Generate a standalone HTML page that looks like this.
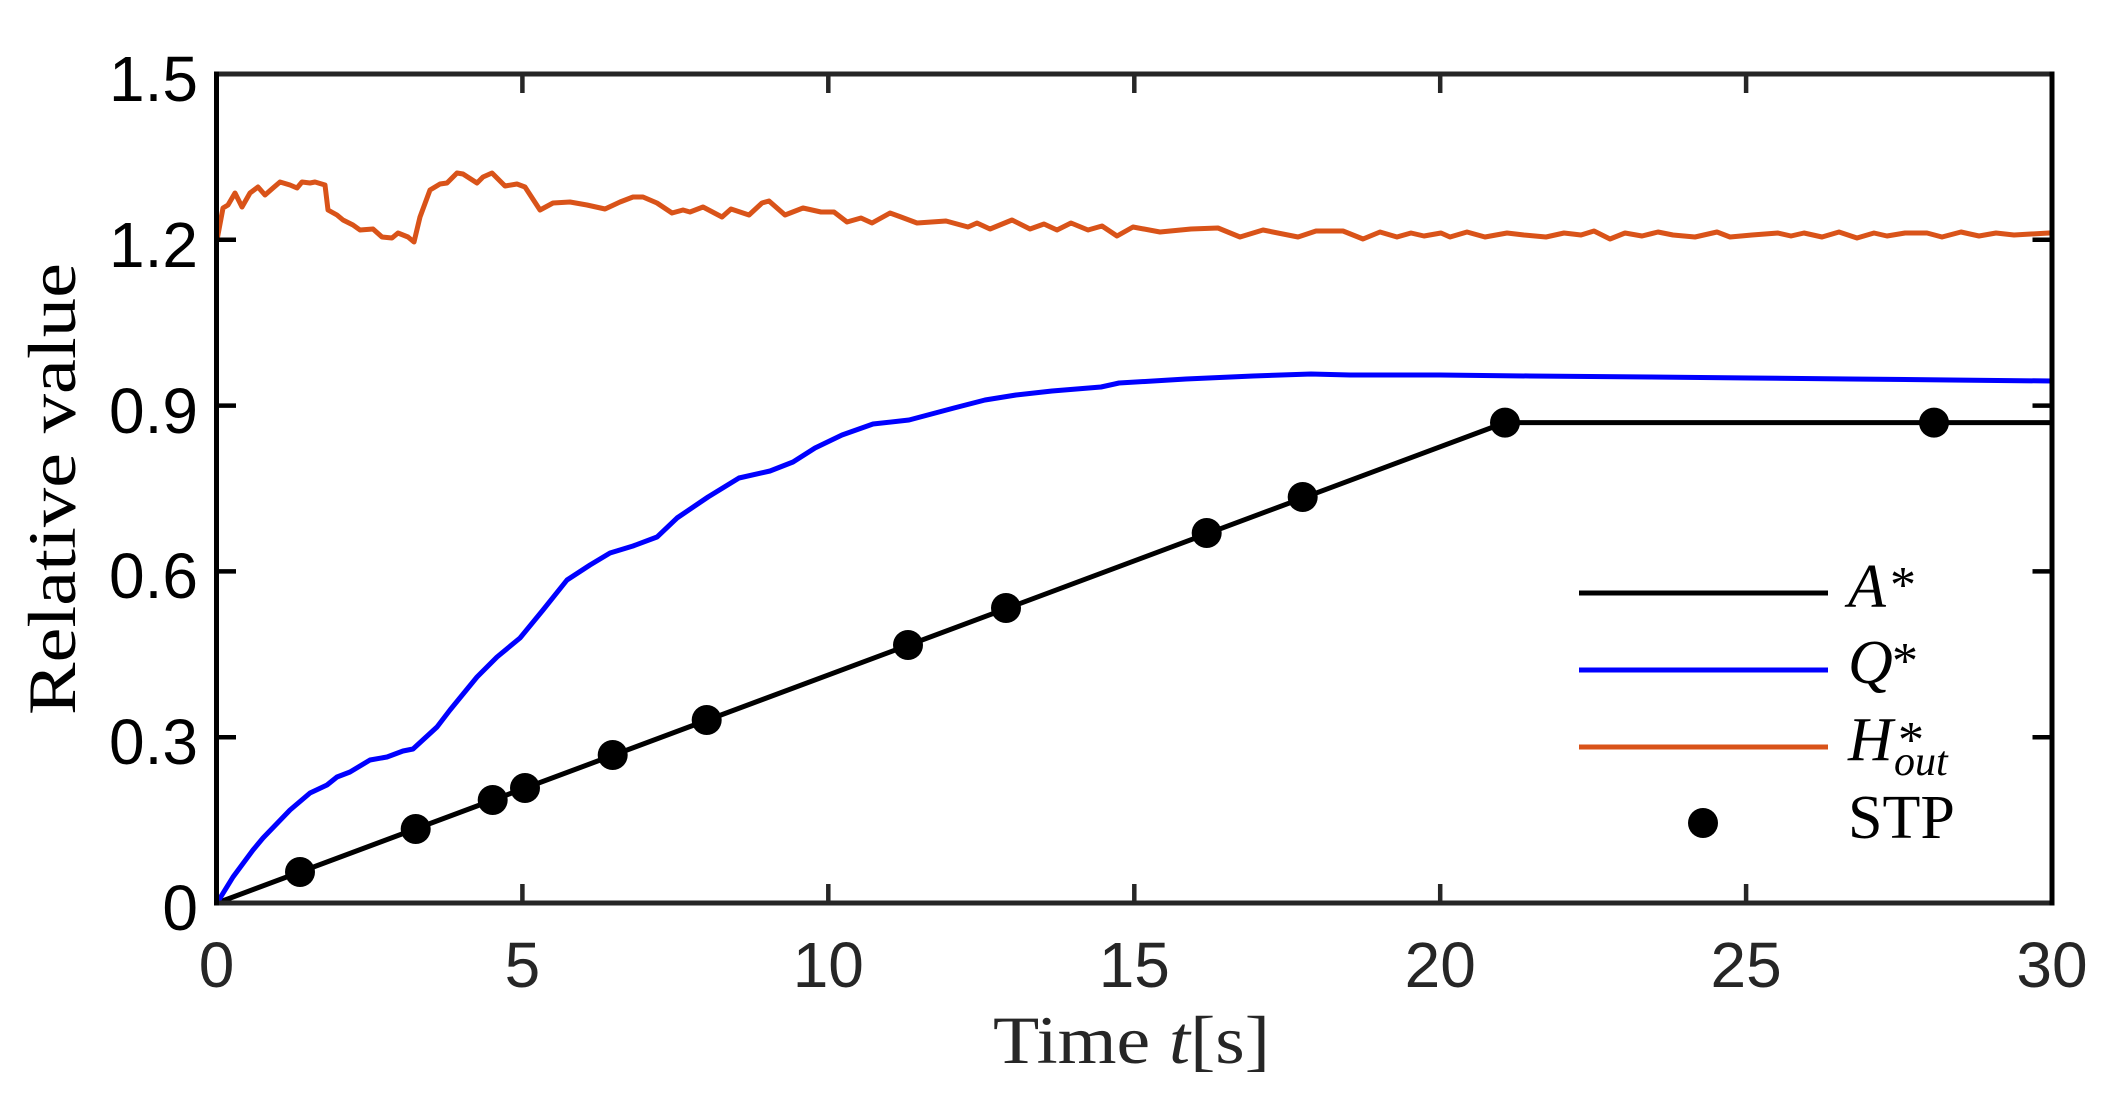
<!DOCTYPE html>
<html>
<head>
<meta charset="utf-8">
<style>
  html, body { margin: 0; padding: 0; background: #ffffff; }
  svg { display: block; }
</style>
</head>
<body>
<svg width="2105" height="1102" viewBox="0 0 2105 1102" xmlns="http://www.w3.org/2000/svg">
  <rect x="0" y="0" width="2105" height="1102" fill="#ffffff"/>

  <!-- A* line -->
  <polyline fill="none" stroke="#000000" stroke-width="5" stroke-linejoin="round"
    points="217,903 1505,422.6 2052,422.6"/>

  <!-- Q* line -->
  <polyline fill="none" stroke="#0000ff" stroke-width="5" stroke-linejoin="round"
    points="217,903 233,877 253,850 263,838 290,810 310,793 327,785 337,777 350,772 370,760 387,757 403,751 413,749 437,727 450,710 477,677 497,657 520,638 543,610 567,580 590,565 610,553 633,546 657,537 677,518 708,497 739,478 770,471 793,462 815,448 842,435 873,424 909,420 954,408 985,400 1016,395 1052,391 1101,387 1119,383 1186,379 1253,376 1311,374 1350,375 1440,375 1530,376 1650,377 1750,378 1850,379 1950,380 2052,381"/>

  <!-- H*out line -->
  <polyline fill="none" stroke="#d95319" stroke-width="5" stroke-linejoin="round"
    points="217,240 223,208 228,205 235,193 242,207 250,193 258,187 265,195 273,188 280,182 290,185 297,188 302,182 310,183 315,182 325,185 328,210 337,215 343,220 353,225 360,230 373,229 382,237 392,238 398,233 408,237 414,242 420,217 430,190 440,184 447,183 457,173 463,174 477,183 483,177 492,173 505,186 517,184 525,187 540,210 553,203 570,202 587,205 605,209 620,202 633,197 643,197 657,203 672,213 683,210 690,212 703,207 722,217 731,209 749,215 762,203 769,201 785,215 803,208 821,212 834,212 847,222 861,218 872,223 890,213 901,217 917,223 946,221 968,227 977,223 990,229 1012,220 1030,229 1044,224 1057,230 1071,223 1088,230 1102,226 1117,236 1133,227 1160,232 1191,229 1218,228 1240,237 1263,230 1298,237 1316,231 1343,231 1363,239 1380,232 1397,237 1411,233 1424,236 1441,233 1450,237 1467,232 1485,237 1507,233 1524,235 1546,237 1564,233 1581,235 1594,231 1610,239 1625,233 1642,236 1658,232 1673,235 1695,237 1717,232 1730,237 1752,235 1778,233 1791,236 1804,233 1822,237 1839,232 1857,238 1874,233 1887,236 1905,233 1927,233 1942,237 1961,232 1979,236 1996,233 2014,235 2031,234 2049,233 2052,233"/>

  <!-- STP markers -->
  <g fill="#000000">
    <circle cx="300" cy="872" r="15"/>
    <circle cx="415.7" cy="829" r="15"/>
    <circle cx="492.7" cy="800" r="15"/>
    <circle cx="525" cy="788" r="15"/>
    <circle cx="612.7" cy="755" r="15"/>
    <circle cx="706.7" cy="720" r="15"/>
    <circle cx="908" cy="645" r="15"/>
    <circle cx="1006" cy="608" r="15"/>
    <circle cx="1206.7" cy="533" r="15"/>
    <circle cx="1302.7" cy="497" r="15"/>
    <circle cx="1505" cy="422.6" r="15"/>
    <circle cx="1934" cy="422.6" r="15"/>
  </g>

  <!-- Axes box -->
  <line x1="214" y1="903" x2="2054.5" y2="903" stroke="#262626" stroke-width="5"/>
  <line x1="214" y1="74" x2="2054.5" y2="74" stroke="#262626" stroke-width="5"/>
  <line x1="216.5" y1="71.5" x2="216.5" y2="905.5" stroke="#000000" stroke-width="5"/>
  <line x1="2052" y1="71.5" x2="2052" y2="905.5" stroke="#000000" stroke-width="5"/>

  <!-- X ticks -->
  <g stroke="#262626" stroke-width="4.5">
    <line x1="522.4" y1="903" x2="522.4" y2="884"/>
    <line x1="828.3" y1="903" x2="828.3" y2="884"/>
    <line x1="1134.3" y1="903" x2="1134.3" y2="884"/>
    <line x1="1440.2" y1="903" x2="1440.2" y2="884"/>
    <line x1="1746.1" y1="903" x2="1746.1" y2="884"/>
    <line x1="522.4" y1="74" x2="522.4" y2="93"/>
    <line x1="828.3" y1="74" x2="828.3" y2="93"/>
    <line x1="1134.3" y1="74" x2="1134.3" y2="93"/>
    <line x1="1440.2" y1="74" x2="1440.2" y2="93"/>
    <line x1="1746.1" y1="74" x2="1746.1" y2="93"/>
  </g>
  <!-- Y ticks -->
  <g stroke="#000000" stroke-width="4.5">
    <line x1="216.5" y1="737.2" x2="236" y2="737.2"/>
    <line x1="216.5" y1="571.4" x2="236" y2="571.4"/>
    <line x1="216.5" y1="405.6" x2="236" y2="405.6"/>
    <line x1="216.5" y1="239.8" x2="236" y2="239.8"/>
    <line x1="2052" y1="737.2" x2="2032.5" y2="737.2"/>
    <line x1="2052" y1="571.4" x2="2032.5" y2="571.4"/>
    <line x1="2052" y1="405.6" x2="2032.5" y2="405.6"/>
    <line x1="2052" y1="239.8" x2="2032.5" y2="239.8"/>
  </g>

  <!-- X tick labels -->
  <g font-family="'Liberation Sans', Arial, sans-serif" font-size="64" fill="#262626" text-anchor="middle">
    <text x="216.5" y="987">0</text>
    <text x="522.4" y="987">5</text>
    <text x="828.3" y="987">10</text>
    <text x="1134.3" y="987">15</text>
    <text x="1440.2" y="987">20</text>
    <text x="1746.1" y="987">25</text>
    <text x="2052" y="987">30</text>
  </g>
  <!-- Y tick labels -->
  <g font-family="'Liberation Sans', Arial, sans-serif" font-size="64" fill="#000000" text-anchor="end">
    <text x="198" y="930">0</text>
    <text x="198" y="764">0.3</text>
    <text x="198" y="598">0.6</text>
    <text x="198" y="433">0.9</text>
    <text x="198" y="267">1.2</text>
    <text x="198" y="101">1.5</text>
  </g>

  <!-- Axis labels -->
  <text transform="translate(75,489) rotate(-90)" text-anchor="middle"
    font-family="'Liberation Serif', 'Times New Roman', serif" font-size="68" fill="#000000"
    textLength="452" lengthAdjust="spacingAndGlyphs">Relative value</text>
  <text x="993" y="1063" font-family="'Liberation Serif', 'Times New Roman', serif" font-size="68" fill="#262626"
    textLength="277" lengthAdjust="spacingAndGlyphs">Time <tspan font-style="italic">t</tspan>[s]</text>

  <!-- Legend -->
  <line x1="1579" y1="593" x2="1828" y2="593" stroke="#000000" stroke-width="5"/>
  <line x1="1579" y1="670" x2="1828" y2="670" stroke="#0000ff" stroke-width="5"/>
  <line x1="1579" y1="747" x2="1828" y2="747" stroke="#d95319" stroke-width="5"/>
  <circle cx="1703" cy="823" r="15" fill="#000000"/>

  <g font-family="'Liberation Serif', 'Times New Roman', serif" fill="#000000">
    <text x="1848" y="607" font-size="62" font-style="italic">A</text>
    <text x="1890" y="602" font-size="52">*</text>

    <text x="1848" y="683" font-size="62" font-style="italic">Q</text>
    <text x="1892" y="678" font-size="52">*</text>

    <text x="1848" y="760" font-size="62" font-style="italic">H</text>
    <text x="1898" y="757" font-size="52">*</text>
    <text x="1894" y="775" font-size="42" font-style="italic">out</text>

    <text x="1848" y="838" font-size="62">STP</text>
  </g>
</svg>
</body>
</html>
